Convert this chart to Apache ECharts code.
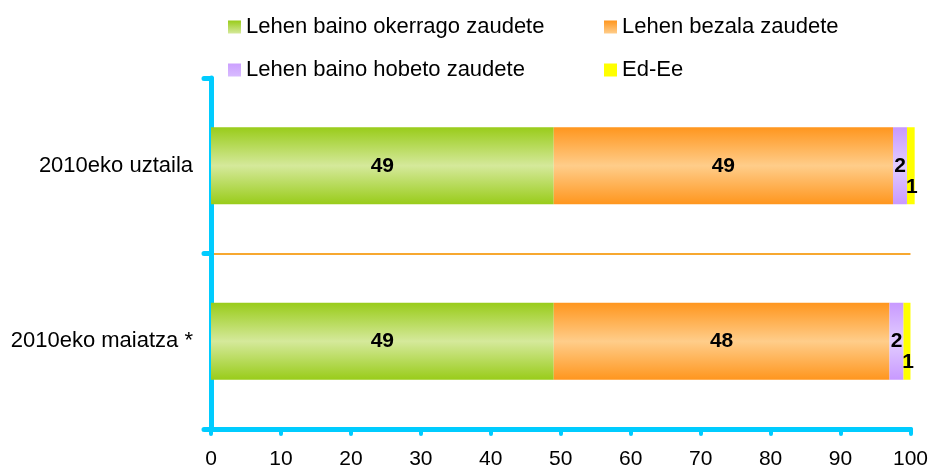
<!DOCTYPE html>
<html>
<head>
<meta charset="utf-8">
<script src="https://cdn.jsdelivr.net/npm/echarts@6/dist/echarts.min.js"></script>
<style>
  html, body { margin: 0; padding: 0; background: #ffffff; }
  #chart { width: 931px; height: 470px; }
</style>
</head>
<body>
<div id="chart"></div>
<script>
// ---- data ----
const categories = ['2010eko maiatza *', '2010eko uztaila'];   // bottom to top
const seriesNames = ['Lehen baino okerrago zaudete', 'Lehen bezala zaudete', 'Lehen baino hobeto zaudete', 'Ed-Ee'];
const okerrago = [49.0, 49.0];
const bezala   = [48.0, 48.5];
const hobeto   = [2.0, 2.0];
const edee     = [1.0, 1.1];
const xTicks = { min: 0, max: 100, interval: 10 };

// ---- styles ----
const FONT = "'Liberation Sans', Arial, sans-serif";
const CYAN = '#00CCFF';
function vgrad(edge, mid) {
  return new echarts.graphic.LinearGradient(0, 0, 0, 1, [
    { offset: 0, color: edge },
    { offset: 0.5, color: mid },
    { offset: 1, color: edge }
  ]);
}
function legendGrad(top, bottom) {
  return new echarts.graphic.LinearGradient(0, 0, 0, 1, [
    { offset: 0, color: top },
    { offset: 1, color: bottom }
  ]);
}
const fills = [
  vgrad('#99CC1A', '#D5E99B'),
  vgrad('#FF961E', '#FFCD8A'),
  vgrad('#C899FF', '#E2CDFF'),
  '#FFFF00'
];
const legendFills = [
  legendGrad('#99CC1A', '#D5E99B'),
  legendGrad('#FF961E', '#FFCD8A'),
  legendGrad('#CCA0FF', '#D8BBFF'),
  '#FFFF00'
];
const values = [okerrago, bezala, hobeto, edee];

const labelBase = {
  show: true,
  position: 'inside',
  color: '#000',
  fontFamily: FONT,
  fontWeight: 'bold',
  fontSize: 21,
  formatter: p => Math.round(p.value)
};

const series = seriesNames.map((name, i) => ({
  name: name,
  type: 'bar',
  stack: 'total',
  barWidth: 77,
  clip: false,
  data: values[i],
  itemStyle: { color: fills[i] },
  label: i === 3 ? Object.assign({}, labelBase, { offset: [1, 21] }) : labelBase,
  emphasis: { disabled: true }
}));

const legendText = { fontFamily: FONT, fontSize: 22, color: '#000', lineHeight: 22 };
function legendItems(idx) {
  return idx.map(i => ({ name: seriesNames[i], itemStyle: { color: legendFills[i] } }));
}

const chart = echarts.init(document.getElementById('chart'), null, { renderer: 'canvas' });
chart.setOption({
  animation: false,
  backgroundColor: '#ffffff',
  legend: [
    {
      data: legendItems([0, 2]), orient: 'vertical', left: 223, top: 11,
      icon: 'rect', itemWidth: 13, itemHeight: 13, itemGap: 21, selectedMode: false,
      textStyle: legendText, padding: 5
    },
    {
      data: legendItems([1, 3]), orient: 'vertical', left: 599, top: 11,
      icon: 'rect', itemWidth: 13, itemHeight: 13, itemGap: 21, selectedMode: false,
      textStyle: legendText, padding: 5
    }
  ],
  grid: { left: 211, right: 20, top: 78, bottom: 40, containLabel: false },
  xAxis: {
    type: 'value',
    min: xTicks.min, max: xTicks.max, interval: xTicks.interval,
    axisLine: { show: true, lineStyle: { color: CYAN, width: 5, cap: 'round' } },
    axisTick: { show: true, length: 5, lineStyle: { color: CYAN, width: 4, cap: 'round' } },
    axisLabel: { color: '#000', fontFamily: FONT, fontSize: 21, margin: 20 },
    splitLine: { show: false }
  },
  yAxis: {
    type: 'category',
    data: categories,
    axisLine: { show: true, lineStyle: { color: CYAN, width: 5 } },
    axisTick: { show: true, length: 7, lineStyle: { color: CYAN, width: 5, cap: 'round' } },
    axisLabel: { color: '#000', fontFamily: FONT, fontSize: 22, margin: 18 },
    splitLine: { show: true, showMinLine: false, showMaxLine: false, lineStyle: { color: '#F7A830', width: 2 } }
  },
  series: series
});
</script>
</body>
</html>
